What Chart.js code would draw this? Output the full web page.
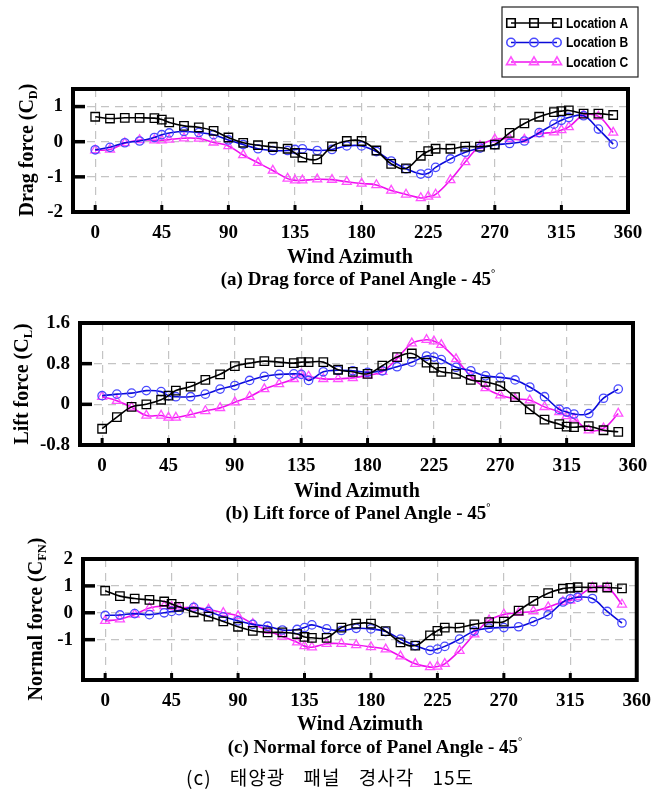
<!DOCTYPE html>
<html>
<head>
<meta charset="utf-8">
<script src="https://cdn.jsdelivr.net/npm/chart.js@4.4.1/dist/chart.umd.min.js"></script>
<style>
  body { margin: 0; background: #fff; }
  #page { position: relative; width: 661px; height: 790px; overflow: hidden; font-family: "Liberation Serif", "Times New Roman", serif; color: #000; }
  canvas { position: absolute; left: 0; }
  .t { position: absolute; font-weight: bold; white-space: nowrap; line-height: 1; transform: translate(-50%, -50%); }
  .yt { font-size: 20px; transform: translate(-50%, -50%) rotate(-90deg); }
  .xt { font-size: 20px; }
  .st { font-size: 19px; }
  .t sub { font-size: 62%; vertical-align: -0.3em; }
  .t sup { font-size: 55%; vertical-align: 0.7em; }
  .cap { position: absolute; white-space: nowrap; transform: translate(-50%, -50%); font-family: "Noto Sans CJK KR", "Noto Sans", sans-serif; font-size: 19px; letter-spacing: 1px; word-spacing: 13px; line-height: 1; }
</style>
</head>
<body>
<div id="page">
  <canvas id="dragChart" width="661" height="250" style="top:0px"></canvas>
  <canvas id="liftChart" width="661" height="190" style="top:290px"></canvas>
  <canvas id="normalChart" width="661" height="190" style="top:530px"></canvas>

  <div class="t yt" style="left:28px;top:150px">Drag force (C<sub>D</sub>)</div>
  <div class="t xt" style="left:350px;top:256px">Wind Azimuth</div>
  <div class="t st" style="left:358px;top:278px">(a) Drag force of Panel Angle - 45<sup>°</sup></div>

  <div class="t yt" style="left:23px;top:384px">Lift force (C<sub>L</sub>)</div>
  <div class="t xt" style="left:357px;top:490px">Wind Azimuth</div>
  <div class="t st" style="left:358px;top:512px">(b) Lift force of Panel Angle - 45<sup>°</sup></div>

  <div class="t yt" style="left:37px;top:619px">Normal force (C<sub>FN</sub>)</div>
  <div class="t xt" style="left:360px;top:723px">Wind Azimuth</div>
  <div class="t st" style="left:375px;top:746px">(c) Normal force of Panel Angle - 45<sup>°</sup></div>

  <div class="cap" style="left:330px;top:776px">(c) 태양광 패널 경사각 15도</div>
</div>

<script>
// wind azimuth (deg): every 10 deg plus the 45 deg diagonals
const azimuth = [0, 10, 20, 30, 40, 45, 50, 60, 70, 80, 90, 100, 110, 120, 130, 135, 140, 150, 160, 170,
  180, 190, 200, 210, 220, 225, 230, 240, 250, 260, 270, 280, 290, 300, 310, 315, 320, 330, 340, 350];
const xTicks = [0, 45, 90, 135, 180, 225, 270, 315, 360];
const seriesNames = ["Location A", "Location B", "Location C"];

// (a) drag force
const dragA = [0.71, 0.66, 0.68, 0.68, 0.67, 0.63, 0.55, 0.45, 0.41, 0.31, 0.12, -0.03, -0.1, -0.15, -0.2, -0.32, -0.45, -0.5, -0.13, 0.02,
  0.02, -0.25, -0.63, -0.76, -0.4, -0.27, -0.2, -0.2, -0.14, -0.14, -0.08, 0.25, 0.52, 0.71, 0.84, 0.87, 0.89, 0.8, 0.8, 0.76];
const dragB = [-0.23, -0.16, -0.03, 0.02, 0.12, 0.2, 0.25, 0.29, 0.26, 0.2, 0.05, -0.08, -0.2, -0.25, -0.25, -0.22, -0.2, -0.25, -0.22, -0.12,
  -0.12, -0.28, -0.55, -0.77, -0.92, -0.9, -0.73, -0.49, -0.3, -0.18, -0.09, -0.05, 0.02, 0.26, 0.5, 0.61, 0.69, 0.74, 0.36, -0.07];
const dragC = [-0.24, -0.22, -0.04, 0.05, 0.04, 0.04, 0.06, 0.1, 0.09, -0.02, -0.12, -0.38, -0.6, -0.82, -1.05, -1.1, -1.1, -1.07, -1.08, -1.14,
  -1.19, -1.23, -1.39, -1.5, -1.6, -1.56, -1.5, -1.09, -0.58, -0.12, 0.07, 0.08, 0.06, 0.22, 0.27, 0.33, 0.42, 0.75, 0.72, 0.26];
const dragTicks = [-2, -1, 0, 1];

// (b) lift force
const liftA = [-0.48, -0.25, -0.05, 0.0, 0.09, 0.17, 0.27, 0.35, 0.48, 0.59, 0.75, 0.81, 0.85, 0.83, 0.81, 0.83, 0.83, 0.83, 0.68, 0.64,
  0.6, 0.76, 0.93, 1.0, 0.82, 0.72, 0.64, 0.6, 0.48, 0.44, 0.36, 0.14, -0.1, -0.3, -0.39, -0.44, -0.45, -0.43, -0.51, -0.54];
const liftB = [0.17, 0.2, 0.22, 0.27, 0.25, 0.17, 0.15, 0.15, 0.2, 0.3, 0.37, 0.47, 0.55, 0.59, 0.6, 0.59, 0.47, 0.64, 0.67, 0.66,
  0.63, 0.66, 0.74, 0.83, 0.95, 0.93, 0.88, 0.73, 0.66, 0.56, 0.53, 0.48, 0.34, 0.15, -0.1, -0.15, -0.19, -0.18, 0.12, 0.3];
const liftC = [0.15, 0.07, -0.06, -0.22, -0.22, -0.26, -0.26, -0.2, -0.13, -0.07, 0.04, 0.15, 0.3, 0.4, 0.5, 0.59, 0.55, 0.5, 0.5, 0.52,
  0.57, 0.64, 0.9, 1.2, 1.27, 1.24, 1.17, 0.89, 0.55, 0.32, 0.18, 0.11, 0.08, -0.05, -0.15, -0.23, -0.28, -0.51, -0.47, -0.18];
const liftTicks = [-0.8, 0, 0.8, 1.6];

// (c) normal force
const normalA = [0.82, 0.62, 0.53, 0.48, 0.42, 0.33, 0.22, 0.02, -0.14, -0.32, -0.52, -0.67, -0.73, -0.73, -0.79, -0.9, -0.93, -0.93, -0.55, -0.4,
  -0.4, -0.68, -1.1, -1.22, -0.84, -0.67, -0.55, -0.55, -0.43, -0.35, -0.33, 0.08, 0.44, 0.73, 0.9, 0.93, 0.95, 0.94, 0.94, 0.91];
const normalB = [-0.1, -0.08, -0.03, -0.07, 0.0, 0.05, 0.08, 0.2, 0.05, -0.15, -0.3, -0.43, -0.5, -0.64, -0.62, -0.55, -0.45, -0.6, -0.66, -0.58,
  -0.6, -0.7, -0.98, -1.22, -1.4, -1.35, -1.25, -0.98, -0.68, -0.57, -0.55, -0.52, -0.33, -0.08, 0.4, 0.52, 0.58, 0.53, 0.05, -0.38];
const normalC = [-0.3, -0.24, -0.06, 0.18, 0.25, 0.22, 0.19, 0.2, 0.12, 0.0, -0.12, -0.41, -0.66, -0.88, -1.1, -1.24, -1.28, -1.15, -1.15, -1.2,
  -1.27, -1.36, -1.62, -1.9, -2.02, -2.0, -1.9, -1.41, -0.8, -0.28, -0.06, 0.0, 0.06, 0.21, 0.41, 0.46, 0.59, 0.94, 0.94, 0.31];
const normalTicks = [-1, 0, 1, 2];

Chart.defaults.animation = false;
Chart.defaults.font.family = '"Liberation Serif", "Times New Roman", serif';

const styles = [
  { line: "#000000", marker: "#000000", pointStyle: "rect", radius: 6 },
  { line: "#0a0ad8", marker: "#4a4aff", pointStyle: "circle", radius: 4.2 },
  { line: "#ee10ee", marker: "#ff50ff", pointStyle: "triangle", radius: 5.2 },
];

// thick frame + inward tick marks
const framePlugin = {
  id: "frame",
  afterDraw(chart) {
    const { ctx, chartArea: a, scales } = chart;
    ctx.save();
    ctx.strokeStyle = "#000";
    ctx.lineCap = "butt";
    ctx.lineWidth = 3;
    scales.x.ticks.forEach((t) => {
      const px = scales.x.getPixelForValue(t.value);
      if (px > a.right - 3) return;
      ctx.beginPath();
      ctx.moveTo(px, a.bottom);
      ctx.lineTo(px, a.bottom - 7);
      ctx.stroke();
    });
    ctx.lineWidth = 3.5;
    scales.y.ticks.forEach((t) => {
      const py = scales.y.getPixelForValue(t.value);
      if (py > a.bottom - 3 || py < a.top + 3) return;
      ctx.beginPath();
      ctx.moveTo(a.left, py);
      ctx.lineTo(a.left + 12, py);
      ctx.stroke();
    });
    ctx.lineWidth = 4;
    ctx.strokeRect(a.left, a.top, a.right - a.left, a.bottom - a.top);
    ctx.restore();
  },
};

// boxed legend with line + three markers, drawn above panel (a)
const boxLegend = {
  id: "boxLegend",
  afterDraw(chart) {
    const ctx = chart.ctx;
    ctx.save();
    ctx.strokeStyle = "#222";
    ctx.lineWidth = 1.2;
    ctx.strokeRect(502, 7, 136, 70);
    const rows = [23, 42.5, 62];
    chart.data.datasets.forEach((ds, i) => {
      const y = rows[i];
      ctx.strokeStyle = ds.borderColor;
      ctx.lineWidth = ds.borderWidth;
      ctx.beginPath();
      ctx.moveTo(511, y);
      ctx.lineTo(557, y);
      ctx.stroke();
      ctx.strokeStyle = ds.pointBorderColor;
      ctx.fillStyle = "rgba(0,0,0,0)";
      [511, 534, 557].forEach((x) => {
        Chart.helpers.drawPoint(ctx, { pointStyle: ds.pointStyle, radius: ds.pointRadius, rotation: 0, borderWidth: ds.pointBorderWidth }, x, y);
      });
      // condensed bold label
      ctx.save();
      ctx.translate(566, y + 1);
      ctx.scale(0.86, 1);
      ctx.fillStyle = "#000";
      ctx.font = 'bold 14px "Liberation Sans", Arial, sans-serif';
      ctx.textAlign = "left";
      ctx.textBaseline = "middle";
      ctx.fillText(ds.label, 0, 0);
      ctx.restore();
    });
    ctx.restore();
  },
};

function makeChart(id, canvasTop, canvasHeight, box, values, yTicks, yMin, yMax, extraPlugins) {
  const datasets = values.map((vals, i) => ({
    label: seriesNames[i],
    data: vals.map((v, j) => ({ x: azimuth[j], y: v })),
    borderColor: styles[i].line,
    borderWidth: 1.6,
    pointStyle: styles[i].pointStyle,
    pointRadius: styles[i].radius,
    pointBorderColor: styles[i].marker,
    pointBackgroundColor: "rgba(0,0,0,0)",
    pointBorderWidth: 1.3,
    tension: 0.4,
    fill: false,
  }));
  return new Chart(document.getElementById(id), {
    type: "line",
    data: { datasets },
    plugins: [framePlugin].concat(extraPlugins || []),
    options: {
      responsive: false,
      devicePixelRatio: 1,
      layout: {
        autoPadding: false,
        padding: { left: 0, top: box.top - canvasTop, right: 661 - box.right, bottom: 0 },
      },
      plugins: { legend: { display: false }, tooltip: { enabled: false } },
      scales: {
        x: {
          type: "linear",
          min: -15,
          max: 360,
          afterBuildTicks: (s) => { s.ticks = xTicks.map((v) => ({ value: v })); },
          afterFit: (s) => { s.height = canvasHeight - (box.bottom - canvasTop); },
          grid: {
            drawTicks: false,
            lineWidth: 1.2,
            color: (c) => (c.tick && c.tick.value >= 360 ? "rgba(0,0,0,0)" : "#c4c4c4"),
          },
          border: { display: false, dash: [8, 6] },
          ticks: { padding: 10, color: "#000", font: { size: 19, weight: "bold" }, maxRotation: 0 },
        },
        y: {
          type: "linear",
          min: yMin,
          max: yMax,
          afterBuildTicks: (s) => { s.ticks = yTicks.map((v) => ({ value: v })); },
          afterFit: (s) => { s.width = box.left; },
          grid: { drawTicks: false, lineWidth: 1.2, color: "#c4c4c4" },
          border: { display: false, dash: [8, 6] },
          ticks: { padding: 10, color: "#000", font: { size: 19, weight: "bold" } },
        },
      },
    },
  });
}

makeChart("dragChart", 0, 250, { left: 73, top: 89, right: 628, bottom: 212 },
  [dragA, dragB, dragC], dragTicks, -2, 1.5, [boxLegend]);
makeChart("liftChart", 290, 190, { left: 80, top: 323, right: 633, bottom: 445 },
  [liftA, liftB, liftC], liftTicks, -0.8, 1.6);
makeChart("normalChart", 530, 190, { left: 83, top: 559, right: 637, bottom: 680 },
  [normalA, normalB, normalC], normalTicks, -2.5, 2);
</script>
</body>
</html>
